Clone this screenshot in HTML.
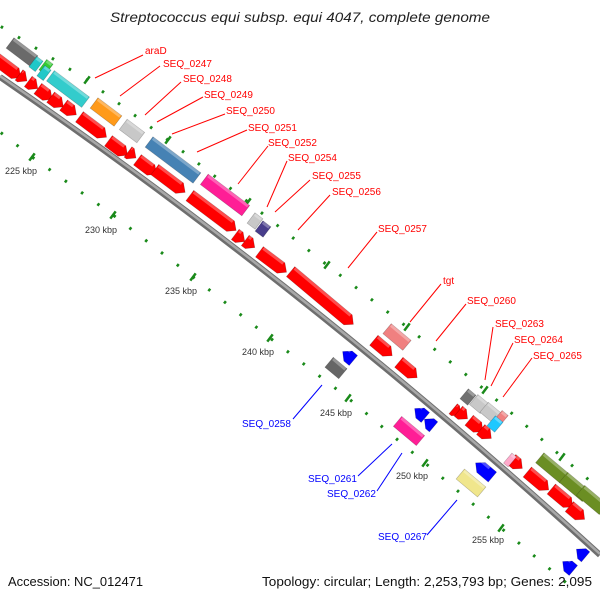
<!DOCTYPE html>
<html><head><meta charset="utf-8"><style>
html,body{margin:0;padding:0;background:#fff;width:600px;height:600px;overflow:hidden}
svg{display:block}
.r{fill:#f00;font:10px "Liberation Sans",sans-serif}
.b{fill:#00f;font:10px "Liberation Sans",sans-serif}
.k{fill:#333;font:9px "Liberation Sans",sans-serif}
</style></head><body>
<svg id="s" width="600" height="600" xmlns="http://www.w3.org/2000/svg">
<text x="300" y="22" text-anchor="middle" font-family="Liberation Sans, sans-serif" font-style="italic" font-size="14" textLength="380" lengthAdjust="spacingAndGlyphs" fill="#222">Streptococcus equi subsp. equi 4047, complete genome</text>
<path d="M0,26 L18,37 L87,80 L168,140 L248,202 L327,265 L407,327 L485,390 L562,457 L610,498" fill="none" stroke="#1a8a1a" stroke-width="3" stroke-dasharray="2.5 17.5" stroke-dashoffset="-1"/>
<path d="M0,132 L32,157 L113,215 L193,277 L270,338 L348,398 L425,463 L501,528 L570,586" fill="none" stroke="#1a8a1a" stroke-width="3" stroke-dasharray="2.5 17.5" stroke-dashoffset="-1"/>
<g id="maj" stroke="#1a8a1a" stroke-width="2.5"></g>
<path d="M0,77 Q310,290 600,555" fill="none" stroke="#6e6e6e" stroke-width="6"/>
<path d="M0,76 Q310,289 600,554" fill="none" stroke="#a8a8a8" stroke-width="2.5"/>
<g id="genes"></g>
<g stroke="#f00" stroke-width="1">
<line x1="143" y1="55" x2="95" y2="78"/>
<line x1="160" y1="66" x2="120" y2="96"/>
<line x1="181" y1="82" x2="145" y2="115"/>
<line x1="203" y1="97" x2="157" y2="122"/>
<line x1="225" y1="114" x2="172" y2="134"/>
<line x1="247" y1="130" x2="197" y2="152"/>
<line x1="268" y1="146" x2="238" y2="184"/>
<line x1="287" y1="161" x2="267" y2="207"/>
<line x1="310" y1="180" x2="275" y2="212"/>
<line x1="330" y1="195" x2="298" y2="230"/>
<line x1="377" y1="232" x2="348" y2="268"/>
<line x1="441" y1="284" x2="410" y2="322"/>
<line x1="466" y1="304" x2="436" y2="341"/>
<line x1="493" y1="327" x2="485" y2="380"/>
<line x1="513" y1="343" x2="491" y2="386"/>
<line x1="532" y1="358" x2="503" y2="397"/>
</g>
<g stroke="#00f" stroke-width="1">
<line x1="293" y1="419" x2="322" y2="385"/>
<line x1="358" y1="476" x2="392" y2="444"/>
<line x1="377" y1="491" x2="402" y2="453"/>
<line x1="427" y1="535" x2="457" y2="500"/>
</g>
<text class="r" x="145" y="54">araD</text>
<text class="r" x="163" y="67">SEQ_0247</text>
<text class="r" x="183" y="82">SEQ_0248</text>
<text class="r" x="204" y="98">SEQ_0249</text>
<text class="r" x="226" y="114">SEQ_0250</text>
<text class="r" x="248" y="131">SEQ_0251</text>
<text class="r" x="268" y="146">SEQ_0252</text>
<text class="r" x="288" y="161">SEQ_0254</text>
<text class="r" x="312" y="179">SEQ_0255</text>
<text class="r" x="332" y="195">SEQ_0256</text>
<text class="r" x="378" y="232">SEQ_0257</text>
<text class="r" x="443" y="284">tgt</text>
<text class="r" x="467" y="304">SEQ_0260</text>
<text class="r" x="495" y="327">SEQ_0263</text>
<text class="r" x="514" y="343">SEQ_0264</text>
<text class="r" x="533" y="359">SEQ_0265</text>
<text class="b" x="242" y="427">SEQ_0258</text>
<text class="b" x="308" y="482">SEQ_0261</text>
<text class="b" x="327" y="497">SEQ_0262</text>
<text class="b" x="378" y="540">SEQ_0267</text>
<text class="k" x="5" y="174">225 kbp</text>
<text class="k" x="85" y="233">230 kbp</text>
<text class="k" x="165" y="294">235 kbp</text>
<text class="k" x="242" y="355">240 kbp</text>
<text class="k" x="320" y="416">245 kbp</text>
<text class="k" x="396" y="479">250 kbp</text>
<text class="k" x="472" y="543">255 kbp</text>
<text x="8" y="586" font-family="Liberation Sans, sans-serif" font-size="13" fill="#111" textLength="135" lengthAdjust="spacingAndGlyphs">Accession: NC_012471</text>
<text x="592" y="586" text-anchor="end" font-family="Liberation Sans, sans-serif" font-size="13" fill="#111" textLength="330" lengthAdjust="spacingAndGlyphs">Topology: circular; Length: 2,253,793 bp; Genes: 2,095</text>
</svg>
<script>
var NS="http://www.w3.org/2000/svg";
var maj=document.getElementById("maj");
[[87,80],[168,140],[248,202],[327,265],[407,327],[485,390],[562,457],[32,157],[113,215],[193,277],[270,338],[348,398],[425,463],[501,528]].forEach(function(p){
 var l=document.createElementNS(NS,"line");
 l.setAttribute("x1",p[0]-2.7);l.setAttribute("y1",p[1]+3.6);
 l.setAttribute("x2",p[0]+2.7);l.setAttribute("y2",p[1]-3.6);maj.appendChild(l);
});
var g=document.getElementById("genes");
function gene(cx,cy,L,col,type){
 var a=cx<300?37:40,h=13,hh=h/2,x0=-L/2,x1=L/2,t=Math.min(7,L),pts;
 if(type==1) pts=[[x0,-hh],[x1-t,-hh],[x1,0],[x1-t,hh],[x0,hh]];
 else if(type==-1) pts=[[x1,-hh],[x0+t,-hh],[x0,0],[x0+t,hh],[x1,hh]];
 else pts=[[x0,-hh],[x1,-hh],[x1,hh],[x0,hh]];
 var G=document.createElementNS(NS,"g");
 G.setAttribute("transform","translate("+cx+","+cy+") rotate("+a+")");
 var p=document.createElementNS(NS,"polygon");
 p.setAttribute("points",pts.map(function(q){return q.join(",")}).join(" "));
 p.setAttribute("fill",col);p.setAttribute("stroke","rgba(0,0,0,0.25)");p.setAttribute("stroke-width","0.6");
 G.appendChild(p);
 var s=document.createElementNS(NS,"rect");
 s.setAttribute("x",x0+1);s.setAttribute("y",-hh);s.setAttribute("width",Math.max(0,L-2-(type?t:0)));s.setAttribute("height",3);
 s.setAttribute("fill","rgba(255,255,255,0.3)");G.appendChild(s);
 g.appendChild(G);
}
[[8,68,32],[23,78,10],[33,85,12],[45,94,18],[57,102,16],[70,110,16],[93,127,34],[118,148,24],[132,155,10],[147,167,24],[170,181,38],[213,213,58],[240,238,12],[250,244,12],[273,262,34],[322,298,82],[383,348,24],[408,370,24],[457,412,10],[463,415,12],[476,426,18],[486,434,14],[517,464,14],[538,481,28],[562,498,28],[577,513,20]].forEach(function(d){gene(d[0],d[1],d[2],"#f00",1)});
[[22,52,30,"#6a6a6a"],[36,64,8,"#20c8c8"],[46,67,8,"#33cc33"],[44,73,8,"#20c8c8"],[68,89,44,"#33cccc"],[106,112,30,"#ff9a1a"],[132,131,22,"#c8c8c8"],[173,160,60,"#4682b4"],[225,195,52,"#ff1e96"],[255,221,10,"#c8c8c8"],[263,229,10,"#483d8b"],[397,337,26,"#f08080"],[468,397,10,"#707070"],[479,404,14,"#c8c8c8"],[491,413,18,"#c8c8c8"],[501,418,8,"#f08080"],[495,424,10,"#1ec8ff"],[510,460,6,"#ffaacc"],[552,468,32,"#6b8e23"],[575,487,30,"#6b8e23"],[592,500,30,"#6b8e23"],[336,368,18,"#666"],[409,431,30,"#ff1e96"],[471,483,28,"#f0e68c"]].forEach(function(d){gene(d[0],d[1],d[2],d[3],0)});
[[348,356,14],[420,413,14],[429,423,12],[484,470,22],[581,553,12],[568,566,14]].forEach(function(d){gene(d[0],d[1],d[2],"#00f",-1)});
</script>
</body></html>
